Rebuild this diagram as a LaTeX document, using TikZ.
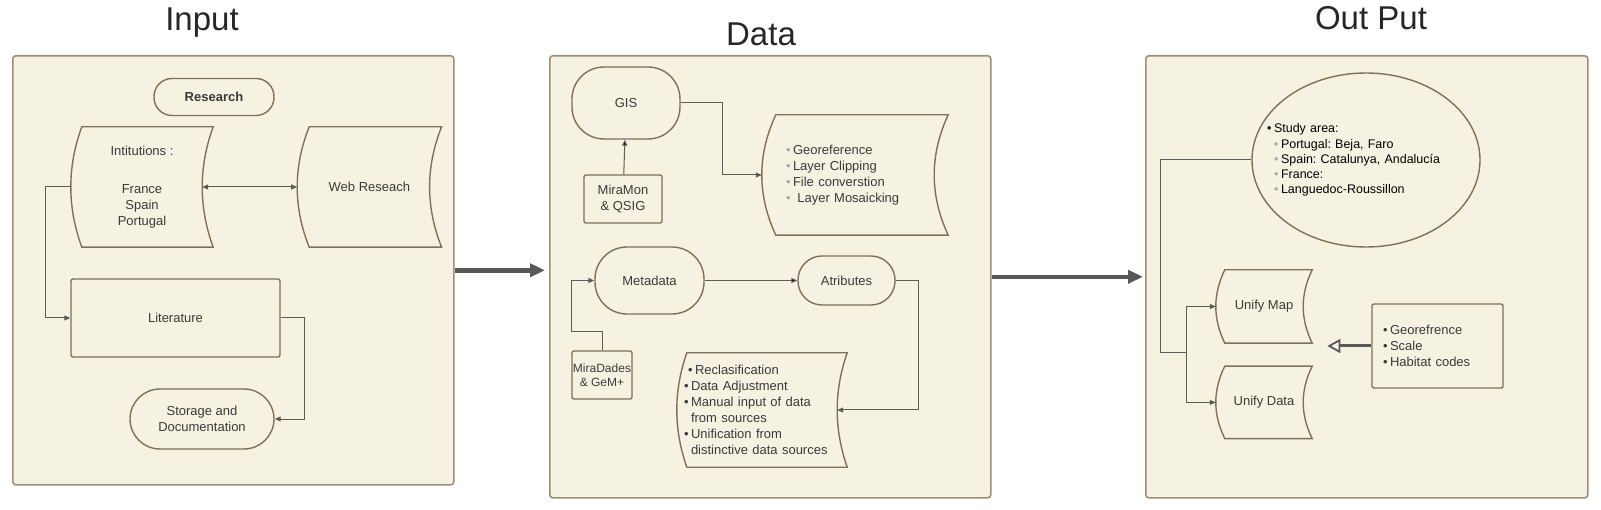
\documentclass[tikz,border=0pt]{standalone}
\usepackage{fontspec}
\setmainfont{Liberation Sans}
\usetikzlibrary{arrows.meta, calc, positioning, shapes.geometric}

\definecolor{panelfill}{HTML}{F6F2E2}
\definecolor{panelline}{HTML}{9A8F78}
\definecolor{shapeline}{HTML}{7D7158}
\definecolor{linkgray}{HTML}{5C5C5C}
\definecolor{arrowgray}{HTML}{585858}
\definecolor{textgray}{HTML}{3A3A3A}
\definecolor{titlegray}{HTML}{262626}
\definecolor{dotgray}{HTML}{A8A8A8}

\frenchspacing
\newcommand{\bulblack}{\makebox[7pt][l]{\textbullet}}
\newcommand{\bulgray}{\makebox[7pt][l]{\textcolor{dotgray}{\textbullet}}}

% outline of a stored data shape round node #1, curve depth #2
\newcommand{\storedline}[2]{%
    \draw[shapeline, line width = 1.4pt]
        ($(#1.north west) + (#2,0)$) -- (#1.north east)
        .. controls ($(#1.north east)!1/3!(#1.south east) + (-4/3*#2,0)$)
        and ($(#1.north east)!2/3!(#1.south east) + (-4/3*#2,0)$) .. (#1.south east)
        -- ($(#1.south west) + (#2,0)$)
        .. controls ($(#1.north west)!2/3!(#1.south west) + (-1/3*#2,0)$)
        and ($(#1.north west)!1/3!(#1.south west) + (-1/3*#2,0)$) .. cycle;
    \coordinate (#1-in) at ($(#1.east) + (-#2,0)$);
}

\begin{document}
\begin{tikzpicture}[
            x = 1pt, y = -1pt,
            >= {Triangle[length = 6pt, width = 5pt]},
            panel/.style = {
                draw = panelline, fill = panelfill,
                line width = 1.6pt,
                rounded corners = 3pt,
                anchor = north west,
                inner sep = 0pt,
            },
            heading/.style = {
                font = \fontsize{33}{38}\selectfont,
                text = titlegray,
                anchor = base,
            },
            term/.style = {
                draw = shapeline, line width = 1.4pt,
                rounded corners = #1,
                align = center, inner sep = 0pt,
                text = textgray,
                font = \fontsize{13}{16}\selectfont,
            },
            term/.default = 18pt,
            boxed/.style = {
                draw = shapeline, line width = 1.4pt,
                rounded corners = 2pt,
                align = center, inner sep = 0pt,
                text = textgray,
                font = \fontsize{13}{16}\selectfont,
            },
            stored/.style = {
                inner sep = 0pt, align = center,
                text = textgray,
                font = \fontsize{13}{16}\selectfont,
            },
            oval/.style = {
                ellipse, draw = shapeline, line width = 1.4pt,
                minimum width = 228pt, minimum height = 174pt,
                inner sep = 0pt,
            },
            link/.style = {->, draw = linkgray, line width = 1pt},
            bigarrow/.style = {
                draw = arrowgray, line width = 4.5pt,
                -{Triangle[length = 15pt, width = 13pt]},
            },
        ]

        \useasboundingbox (0,0) rectangle (1601,510);

        % Input
        \node[panel, minimum width = 441pt, minimum height = 429pt] (inpanel) at (12,55) {};
        \node[heading] (intitle) at (202,31) {Input};

        \node[term = 18pt, minimum width = 120pt, minimum height = 37pt,
            font = \fontsize{13}{16}\selectfont\bfseries] (research) at (214,97) {Research};
        \node[stored, minimum width = 142pt, minimum height = 120pt] (inst) at (142,187)
            {Intitutions :\\[22pt]France\\Spain\\Portugal};
        \storedline{inst}{11}
        \node[stored, minimum width = 144pt, minimum height = 120pt, right = 84pt of inst] (web) {Web Reseach};
        \storedline{web}{12}
        \node[boxed, minimum width = 209pt, minimum height = 78pt] (lit) at (175.5,318) {Literature};
        \node[term = 30pt, minimum width = 144pt, minimum height = 60pt] (store) at (202,419)
            {Storage and\\Documentation};

        \draw[link, <->] (inst-in) -- (web.west);
        \draw[link] (inst.west) -- ++(-25,0) |- (lit.west);
        \draw[link] (lit.east) -- ++(24,0) |- (store.east);

        % Data
        \node[panel, minimum width = 441pt, minimum height = 442pt] (datapanel) at (549,55) {};
        \node[heading] (datatitle) at (761,46) {Data};

        \node[term = 32pt, minimum width = 108pt, minimum height = 72pt] (gis) at (626,103) {GIS};
        \node[boxed, minimum width = 78pt, minimum height = 48pt] (miramon) at (623,199) {MiraMon\\\& QSIG};
        \node[stored, minimum width = 186pt, minimum height = 120pt, text width = 138pt, align = left] (geo) at (855,175)
            {\bulgray Georeference\\ \bulgray Layer Clipping\\ \bulgray File converstion\\ \bulgray\ Layer Mosaicking};
        \storedline{geo}{14}
        \node[term = 32pt, minimum width = 109pt, minimum height = 67pt] (meta) at (649.5,280.5) {Metadata};
        \node[term = 24pt, minimum width = 97pt, minimum height = 49pt] (attr) at (846.5,280.5) {Atributes};
        \node[boxed, minimum width = 60pt, minimum height = 48pt,
            font = \fontsize{12}{14.5}\selectfont] (miradades) at (602,375) {MiraDades\\\& GeM+};
        \node[stored, minimum width = 170pt, minimum height = 114pt, text width = 156pt, align = left] (recl) at (762,410)
            {\hspace*{4pt}\bulblack Reclasification\\ \bulblack Data Adjustment\\ \bulblack Manual input of data\\
             \hspace*{7pt}from sources\\ \bulblack Unification from\\ \hspace*{7pt}distinctive data sources};
        \storedline{recl}{10}

        \path[link]
            (miramon) edge (gis)
            (meta) edge (attr);
        \draw[link] (gis.east) -- ++(42,0) |- (geo.west);
        \draw[link] (miradades.north) -- ++(0,-19) -- ++(-31,0) |- (meta.west);
        \draw[link] (attr.east) -- ++(23,0) |- (recl-in);

        % Out Put
        \node[panel, minimum width = 442pt, minimum height = 442pt] (outpanel) at (1145,55) {};
        \node[heading] (outtitle) at (1371,30) {Out Put};

        \node[oval] (area) at (1366,160) {};
        \node[stored, text width = 198pt, align = left, text = black,
            font = \fontsize{12.5}{15.2}\selectfont] (areatext) at (area.center)
            {\bulblack Study area:\\ \hspace*{7pt}\bulgray Portugal: Beja, Faro\\
             \hspace*{7pt}\bulgray Spain: Catalunya, Andalucía\\ \hspace*{7pt}\bulgray France:\\
             \hspace*{7pt}\bulgray Languedoc-Roussillon};
        \node[stored, minimum width = 96pt, minimum height = 73pt] (umap) at (1264,306.5) {Unify Map};
        \storedline{umap}{9}
        \node[stored, minimum width = 96pt, minimum height = 72pt, below = 23pt of umap] (udata) {Unify Data};
        \storedline{udata}{9}
        \node[boxed, minimum width = 131pt, minimum height = 84pt, text width = 109pt, align = left] (crit) at (1437.5,346)
            {\bulblack Georefrence\\ \bulblack Scale\\ \bulblack Habitat codes};
        \coordinate (split) at (1186,353);

        \draw[linkgray, line width = 1pt] (area.west) -- ++(-91,0) |- (split);
        \draw[link] (split) |- (umap.west);
        \draw[link] (split) |- (udata.west);
        \draw[arrowgray, line width = 3pt,
            -{Triangle[open, length = 13pt, width = 14pt, line width = 1.8pt]}] (crit.west) -- ++(-44,0);

        % Panels
        \draw[bigarrow, shorten >= 4pt] (inpanel.east) -- (inpanel.east -| datapanel.west);
        \draw[bigarrow, shorten >= 2pt] (datapanel.east) -- (datapanel.east -| outpanel.west);

    \end{tikzpicture}
\end{document}
